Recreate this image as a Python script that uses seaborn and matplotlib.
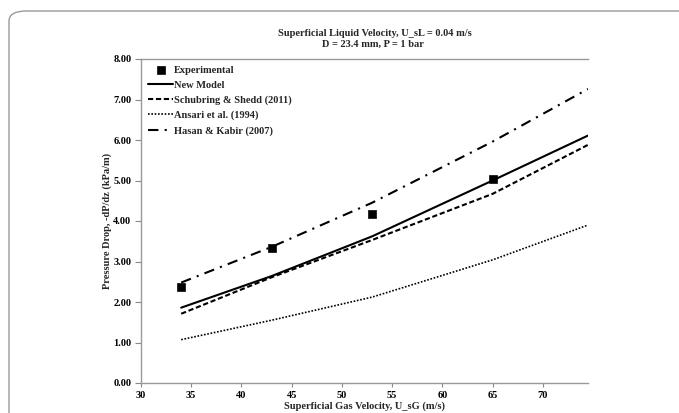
import numpy as np
import pandas as pd
import matplotlib
matplotlib.use("Agg")
import matplotlib.pyplot as plt
import seaborn as sns
from matplotlib.patches import FancyBboxPatch

# --- data ---
exp_x = [34, 43, 53, 65]
exp_y = [2.37, 3.33, 4.18, 5.03]

model_x = [34, 43, 53, 65, 74.5]
new_model = [1.86, 2.64, 3.62, 5.00, 6.11]
schubring = [1.71, 2.61, 3.53, 4.67, 5.88]
ansari = [1.07, 1.55, 2.12, 3.04, 3.90]
hasan = [2.48, 3.36, 4.45, 5.96, 7.26]

x_ticks = [30, 35, 40, 45, 50, 55, 60, 65, 70]
y_ticks = [0, 1, 2, 3, 4, 5, 6, 7, 8]

sns.set_style("ticks")
plt.rcParams['font.family'] = ['Liberation Serif', 'DejaVu Serif']
plt.rcParams['font.weight'] = 'bold'

W, H = 679, 413
fig = plt.figure(figsize=(W / 100, H / 100), dpi=100)
ax = fig.add_axes([141 / W, 1 - 383 / H, (588 - 141) / W, (383 - 59) / H])

# rounded outer frame (cropped on the right and at the bottom)
frame = FancyBboxPatch((9 / W, -0.2), 1.2, 1 - 11 / H + 0.2,
                       boxstyle="round,pad=0,rounding_size=0.025",
                       transform=fig.transFigure, fill=False,
                       edgecolor='#9a9a9a', linewidth=1.0, clip_on=False)
fig.patches.append(frame)

sns.scatterplot(x=exp_x, y=exp_y, marker='s', s=36, color='black',
                edgecolor='black', ax=ax, label='Experimental', zorder=5)
sns.lineplot(x=model_x, y=new_model, color='black', linewidth=1.5,
             ax=ax, label='New Model')
sns.lineplot(x=model_x, y=schubring, color='black', linewidth=1.5,
             ax=ax, label='Schubring & Shedd (2011)')
sns.lineplot(x=model_x, y=ansari, color='black', linewidth=1.2,
             ax=ax, label='Ansari et al. (1994)')
sns.lineplot(x=model_x, y=hasan, color='black', linewidth=1.5,
             ax=ax, label='Hasan & Kabir (2007)')

# dash styles for the model lines
lines = ax.get_lines()
lines[1].set_dashes((2.5, 1.3))
lines[2].set_dashes((1, 1))
lines[3].set_dashes((5, 3, 1, 3))

ax.set_xlim(30, 74.5)
ax.set_ylim(0, 8)
ax.set_xticks(x_ticks)
ax.set_yticks(y_ticks)
ax.set_yticklabels([f"{v:.2f}" for v in y_ticks])
ax.tick_params(axis='both', labelsize=7.5, colors='#888888', labelcolor='black',
               length=3, width=0.8, pad=3)
ax.tick_params(axis='y', length=4)
for t in ax.get_xticklabels() + ax.get_yticklabels():
    t.set_fontweight('bold')

for side in ['left', 'bottom', 'top']:
    ax.spines[side].set_color('#999999')
    ax.spines[side].set_linewidth(1.0)
ax.spines['right'].set_visible(False)

ax.set_xlabel('Superficial Gas Velocity, U_sG (m/s)', fontsize=7.5,
              fontweight='bold', labelpad=1)
ax.set_ylabel('Pressure Drop, -dP/dz (kPa/m)', fontsize=7.5,
              fontweight='bold', labelpad=0.5)

fig.text(375 / W, 1 - 33 / H, 'Superficial Liquid Velocity, U_sL = 0.04 m/s',
         ha='center', va='center', fontsize=7.5, fontweight='bold')
fig.text(373 / W, 1 - 44 / H, 'D = 23.4 mm, P = 1 bar',
         ha='center', va='center', fontsize=7.5, fontweight='bold')

leg = ax.legend(loc='upper left', bbox_to_anchor=(0.0, 1.003), frameon=False,
                fontsize=7.5, handlelength=2.4, handletextpad=0.1,
                labelspacing=0.55, borderaxespad=0.3)
for t in leg.get_texts():
    t.set_fontweight('bold')

fig.savefig('out.png', dpi=100)
